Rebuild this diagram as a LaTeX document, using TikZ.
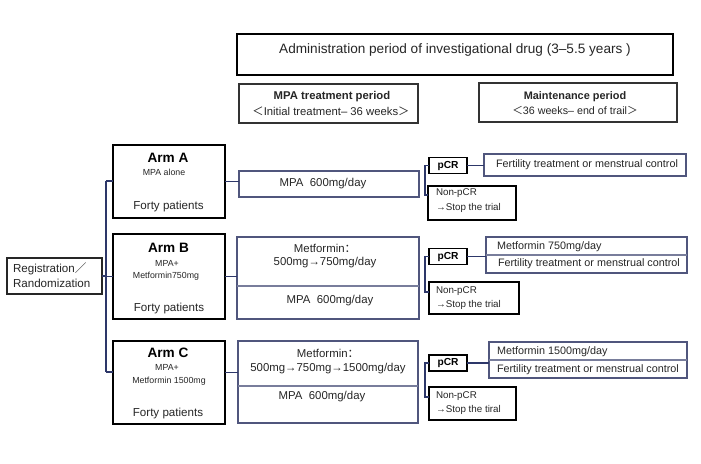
\documentclass[tikz,border=0pt]{standalone}
\usepackage{fontspec}
\setmainfont{Liberation Sans}
\newfontfamily\cjk{Noto Sans CJK SC}
\usetikzlibrary{calc}
\definecolor{navy}{RGB}{45,55,105}
\definecolor{slate}{RGB}{80,86,125}
\definecolor{divc}{RGB}{120,125,155}
\newcommand{\fsz}[1]{\fontsize{#1}{#1}\selectfont}
\begin{document}
\begin{tikzpicture}[x=1pt,y=-1pt,
  bx/.style={draw, inner sep=0pt, outer sep=0pt, rectangle},
  armbox/.style={bx, line width=2.2pt, black, minimum width=112pt},
  topbox/.style={bx, line width=1.8pt, black},
  perbox/.style={bx, line width=1.1pt, draw=black!80},
  regbox/.style={bx, line width=1.1pt, draw=black!85},
  midbox/.style={bx, line width=1.1pt, draw=slate},
  pcrbox/.style={bx, line width=1.6pt, draw=black, minimum width=38pt, minimum height=16pt},
  nonbox/.style={bx, line width=1.1pt, draw=black},
  fertbox/.style={bx, line width=1.1pt, draw=slate},
  divline/.style={line width=1.1pt, draw=divc},
  conn/.style={line width=1.3pt, draw=navy},
  txt/.style={inner sep=0pt, outer sep=0pt, text=black!85},
  ttl/.style={txt, font=\fsz{13.6}},
  hb/.style={txt, font=\fsz{11.3}\bfseries},
  hn/.style={txt, font=\fsz{11.3}},
  armt/.style={txt, font=\fsz{13.6}\bfseries, text=black},
  arms/.style={txt, font=\fsz{8.8}},
  armf/.style={txt, font=\fsz{11.6}},
  regt/.style={txt, font=\fsz{11.6}, anchor=west},
  midt/.style={txt, font=\fsz{11.4}},
  pcrt/.style={txt, font=\fsz{10.2}\bfseries, text=black},
  nont/.style={txt, font=\fsz{9.8}, anchor=west},
  fertt/.style={txt, font=\fsz{10.8}},
]
\useasboundingbox[fill=white] (0,0) rectangle (701,463);

% top boxes
\node[topbox, minimum width=436pt, minimum height=41pt] (title) at (455,54.5) {};
\node[ttl] (titleT) at (455,50) {Administration period of investigational drug (3–5.5 years )};
\node[perbox, minimum width=179pt, minimum height=39pt] (mpaP) at (328.5,103.5) {};
\node[hb] (mpaP1) at (332,97) {MPA treatment period};
\node[hn] (mpaP2) at (331,111) {{\cjk ＜}Initial treatment– 36 weeks{\cjk ＞}};
\node[perbox, minimum width=198pt, minimum height=39pt] (maint) at (578,102.5) {};
\node[hb, font=\fsz{10.9}\bfseries] (maint1) at (575,97) {Maintenance period};
\node[hn, font=\fsz{10.7}] (maint2) at (575,110) {{\cjk ＜}36 weeks– end of trail{\cjk ＞}};

% registration
\node[regbox, minimum width=95pt, minimum height=36pt] (reg) at (54.5,276) {};
\node[regt] (reg1) at (13,268.5) {Registration{\cjk ／}};
\node[regt] (reg2) at (13,283) {Randomization};

% arms
\node[armbox, minimum height=73pt] (armA) at (169,181.5) {};
\node[armt] (armA1) at (168,158) {Arm A};
\node[arms] (armA2) at (164,172) {MPA alone};
\node[armf] (armA3) at (168.5,206) {Forty patients};

\node[armbox, minimum height=85pt] (armB) at (169,276.5) {};
\node[armt] (armB1) at (168.5,248) {Arm B};
\node[arms] (armB2) at (167,263) {MPA+};
\node[arms] (armB3) at (166,276) {Metformin750mg};
\node[armf] (armB4) at (169,308) {Forty patients};

\node[armbox, minimum height=83pt] (armC) at (169,382.5) {};
\node[armt] (armC1) at (168,353) {Arm C};
\node[arms] (armC2) at (167,367) {MPA+};
\node[arms] (armC3) at (169,381) {Metformin 1500mg};
\node[armf] (armC4) at (168,413) {Forty patients};

% middle column
\node[midbox, minimum width=180pt, minimum height=26pt] (midA) at (329,184) {};
\node[midt] (midA1) at (323,184) {MPA\ \ 600mg/day};

\node[midbox, minimum width=182pt, minimum height=82pt] (midB) at (328,278) {};
\coordinate (midBd) at (237,286);
\draw[divline] (midBd) -- (midBd -| midB.east);
\node[midt] (midB1) at (325,248) {Metformin{\cjk ：}};
\node[midt] (midB2) at (325,263) {500mg→750mg/day};
\node[midt] (midB3) at (330,301) {MPA\ \ 600mg/day};

\node[midbox, minimum width=180pt, minimum height=82pt] (midC) at (328,382) {};
\coordinate (midCd) at (238,386);
\draw[divline] (midCd) -- (midCd -| midC.east);
\node[midt] (midC1) at (328,353) {Metformin{\cjk ：}};
\node[midt] (midC2) at (328,369) {500mg→750mg→1500mg/day};
\node[midt] (midC3) at (322,397) {MPA\ \ 600mg/day};

% pCR boxes
\node[pcrbox] (pcrA) at (448,165.5) {};
\node[pcrt] (pcrAt) at (448,165.5) {pCR};
\node[pcrbox] (pcrB) at (448,256.5) {};
\node[pcrt] (pcrBt) at (448,256.5) {pCR};
\node[pcrbox] (pcrC) at (448,363) {};
\node[pcrt] (pcrCt) at (448,363) {pCR};

% non-pCR boxes
\node[nonbox, minimum width=88pt, minimum height=34pt] (nonA) at (472,203) {};
\node[nont] (nonA1) at (436,193.5) {Non-pCR};
\node[nont] (nonA2) at (436,208) {→Stop the trial};
\node[nonbox, minimum width=90pt, minimum height=32pt] (nonB) at (474,298) {};
\node[nont] (nonB1) at (436,291) {Non-pCR};
\node[nont] (nonB2) at (436,305) {→Stop the trial};
\node[nonbox, minimum width=87pt, minimum height=33pt] (nonC) at (472.5,403.5) {};
\node[nont] (nonC1) at (436,396) {Non-pCR};
\node[nont] (nonC2) at (436,410) {→Stop the tiral};

% fertility boxes
\node[fertbox, minimum width=202pt, minimum height=22pt] (fertA) at (585,165) {};
\node[fertt] (fertA1) at (587,165) {Fertility treatment or menstrual control};
\node[fertbox, minimum width=201pt, minimum height=36pt] (fertB) at (586.5,255) {};
\draw[divline] (fertB.west) -- (fertB.east);
\node[fertt, anchor=west] (fertB1) at (497,247) {Metformin 750mg/day};
\node[fertt, anchor=west] (fertB2) at (498,264) {Fertility treatment or menstrual control};
\node[fertbox, minimum width=198pt, minimum height=36pt] (fertC) at (588,360) {};
\draw[divline] (fertC.west) -- (fertC.east);
\node[fertt, anchor=west] (fertC1) at (497,351.5) {Metformin 1500mg/day};
\node[fertt, anchor=west] (fertC2) at (497,369.5) {Fertility treatment or menstrual control};

% connectors: spine
\coordinate (spT) at (106,181);
\coordinate (spB) at (106,372);
\draw[conn] (spT) -- (spB);
\draw[conn] (reg.east) -- (reg.east -| spT);
\draw[conn] (spT) -- (spT -| armA.west);
\draw[conn] (armB.west -| spT) -- (armB.west);
\draw[conn] (spB) -- (spB -| armC.west);

% arms to middle boxes
\draw[conn] (armA.east) -- (armA.east -| midA.west);
\draw[conn] (armB.east) -- (armB.east -| midB.west);
\coordinate (armCc) at ($(armC.east)+(0,-10)$);
\draw[conn] (armCc) -- (armCc -| midC.west);

% brackets
\draw[conn] (pcrA.west) -- ++(-4,0) |- ($(nonA.north west)+(0,9)$);
\draw[conn] (pcrB.west) -- ++(-4,0) |- ($(nonB.north west)+(0,10)$);
\draw[conn] (pcrC.west) -- ++(-4,0) |- ($(nonC.north west)+(0,10)$);

% pCR to maintenance boxes
\draw[conn] (pcrA.east) -- (pcrA.east -| fertA.west);
\draw[conn] (pcrB.east) -- (pcrB.east -| fertB.west);
\draw[conn] (pcrC.east) -- (pcrC.east -| fertC.west);
\end{tikzpicture}
\end{document}
